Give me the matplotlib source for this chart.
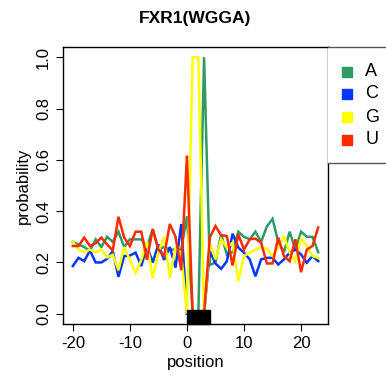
import matplotlib
matplotlib.use("Agg")
import matplotlib.pyplot as plt
from matplotlib.patches import Rectangle
import numpy as np

plt.rcParams['font.family'] = ['Liberation Sans', 'DejaVu Sans']
plt.rcParams['axes.unicode_minus'] = False

positions = list(range(-20, 24))

prob_A = [0.28, 0.27, 0.26, 0.245, 0.29, 0.26, 0.30, 0.28, 0.32, 0.26,
          0.29, 0.29, 0.29, 0.26, 0.33, 0.25, 0.26, 0.25, 0.25, 0.25,
          0.38, 0.0, 0.0, 1.0, 0.19, 0.20, 0.31, 0.23, 0.24, 0.32,
          0.30, 0.29, 0.32, 0.28, 0.34, 0.37, 0.28, 0.24, 0.32, 0.25,
          0.32, 0.30, 0.30, 0.24]
prob_C = [0.186, 0.218, 0.205, 0.247, 0.20, 0.20, 0.214, 0.244, 0.144, 0.225,
          0.227, 0.238, 0.186, 0.264, 0.20, 0.27, 0.21, 0.26, 0.18, 0.35,
          0.0, 0.0, 0.0, 0.0, 0.244, 0.196, 0.175, 0.205, 0.312, 0.258,
          0.238, 0.212, 0.146, 0.212, 0.218, 0.218, 0.192, 0.212, 0.238, 0.25,
          0.231, 0.199, 0.225, 0.205]
prob_G = [0.28, 0.25, 0.24, 0.25, 0.24, 0.25, 0.22, 0.23, 0.17, 0.26,
          0.21, 0.16, 0.21, 0.28, 0.14, 0.24, 0.30, 0.14, 0.26, 0.23,
          0.0, 1.0, 1.0, 0.0, 0.277, 0.212, 0.29, 0.258, 0.277, 0.127,
          0.225, 0.238, 0.25, 0.258, 0.254, 0.225, 0.258, 0.303, 0.238, 0.205,
          0.293, 0.264, 0.225, 0.218]
prob_U = [0.264, 0.264, 0.297, 0.264, 0.275, 0.297, 0.27, 0.247, 0.378, 0.297,
          0.264, 0.32, 0.32, 0.21, 0.33, 0.25, 0.225, 0.35, 0.30, 0.17,
          0.617, 0.0, 0.0, 0.0, 0.297, 0.342, 0.306, 0.303, 0.188, 0.31,
          0.25, 0.29, 0.293, 0.277, 0.196, 0.196, 0.297, 0.225, 0.205, 0.29,
          0.162, 0.25, 0.264, 0.336]

bases = ['A', 'C', 'G', 'U']
colors = ['#2e9b62', '#0038ff', '#ffff00', '#ff2a00']
motif_start, motif_len = 0, 4

fig = plt.figure(figsize=(3.86, 3.78), dpi=100)
ax = fig.add_axes([63 / 386, 1 - 324 / 378, (328 - 63) / 386, (324 - 47) / 378])

for series, col in zip([prob_A, prob_C, prob_G, prob_U], colors):
    ax.plot(positions, series, color=col, lw=1.8, solid_joinstyle='miter')

ax.set_xlim(-21.72, 24.72)
ax.set_ylim(-0.04, 1.04)

# motif block along the bottom
ax.add_patch(Rectangle((motif_start, -0.04), motif_len, 0.055,
                       facecolor='black', edgecolor='black', clip_on=False, zorder=5))

ax.set_xticks([-20, -10, 0, 10, 20])
ax.set_yticks([0.0, 0.2, 0.4, 0.6, 0.8, 1.0])
ax.set_yticklabels(['0.0', '0.2', '0.4', '0.6', '0.8', '1.0'], rotation=90, va='center')
ax.tick_params(labelsize=12, length=5, width=0.8, color='black')
for s in ax.spines.values():
    s.set_linewidth(1.0)
ax.set_xlabel('position', fontsize=12, labelpad=3)
ax.set_ylabel('probability', fontsize=12, labelpad=4)
fig.text(0.5 * (63 + 328) / 386, 1 - 18 / 378, 'FXR1(WGGA)', ha='center', va='center',
         fontsize=12.5, fontweight='bold')

# legend drawn outside the plot region on the right
leg_ax = fig.add_axes([328 / 386, 1 - 163 / 378, (386 - 328) / 386 + 0.02, (163 - 47) / 378])
leg_ax.set_xlim(0, 1)
leg_ax.set_ylim(0, 1)
leg_ax.set_xticks([])
leg_ax.set_yticks([])
for side in ['left', 'right']:
    leg_ax.spines[side].set_visible(False)
for side in ['top', 'bottom']:
    leg_ax.spines[side].set_color('#555555')
    leg_ax.spines[side].set_linewidth(1.0)
leg_ys = [72, 94, 117, 140]
for b, col, yp in zip(bases, colors, leg_ys):
    yy = (163 - yp) / (163 - 47)
    leg_ax.plot([(345 - 328) / 58], [yy], marker='s', ms=7, color=col, mec=col, ls='none')
    leg_ax.text((361 - 328) / 58, yy, b, fontsize=13, va='center', ha='left')

fig.savefig('out.png', dpi=100)
